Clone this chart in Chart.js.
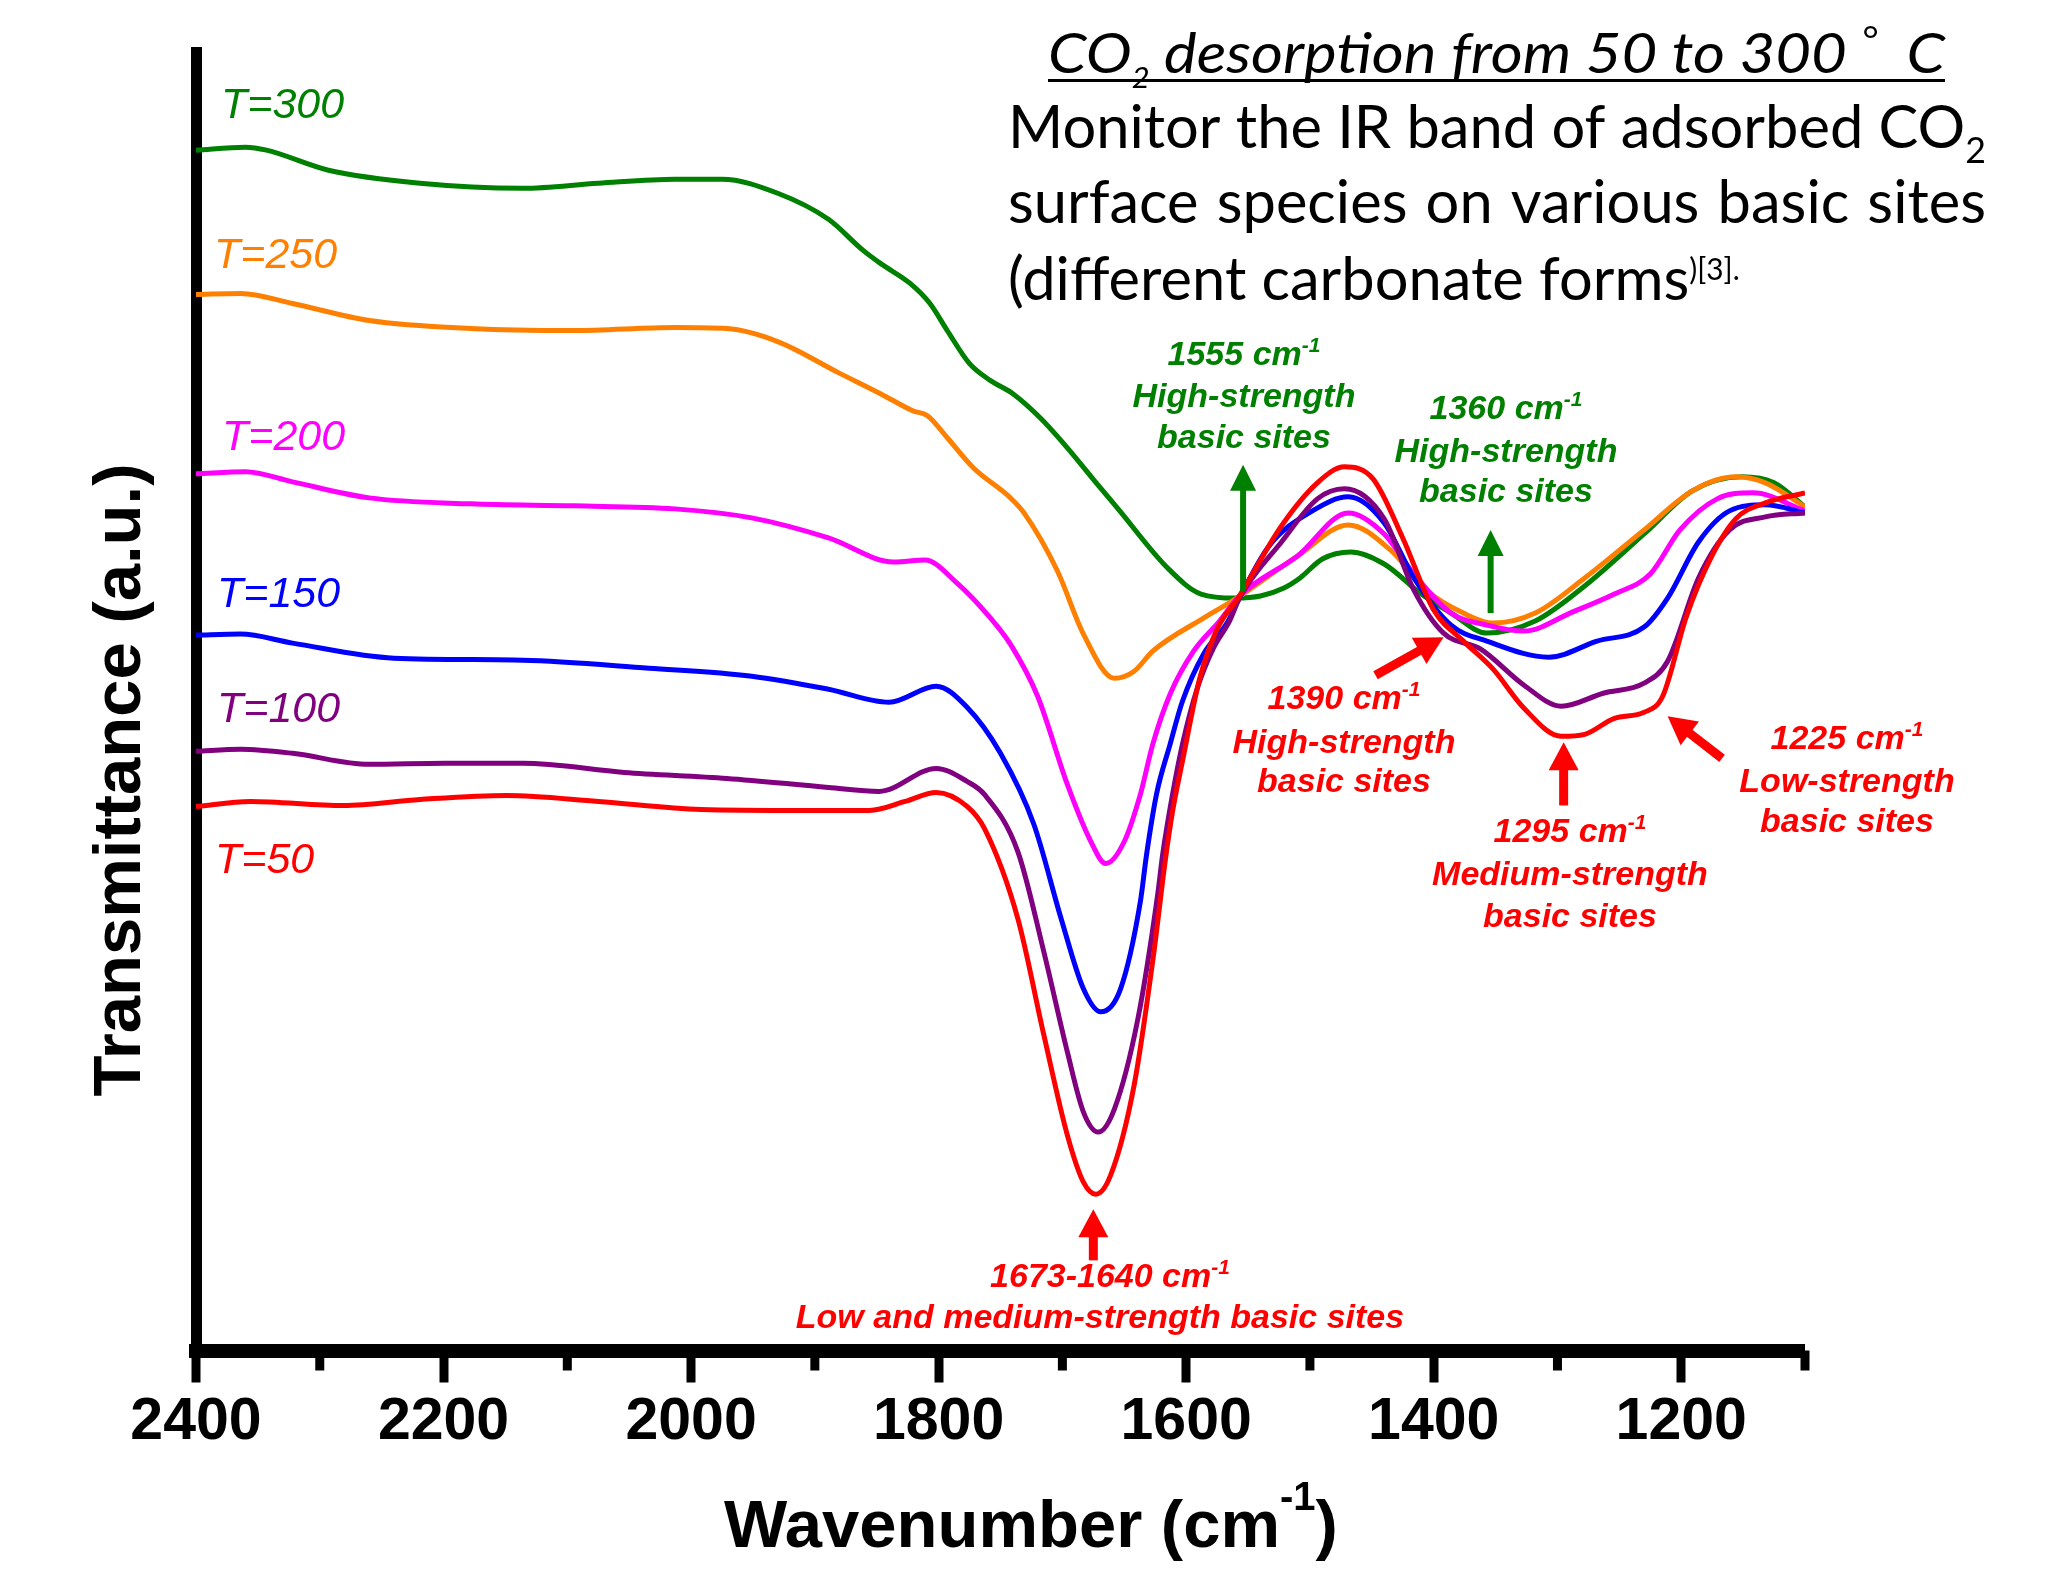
<!DOCTYPE html>
<html>
<head>
<meta charset="utf-8">
<script src="https://cdn.jsdelivr.net/npm/chart.js@4.4.1/dist/chart.umd.min.js"></script>
<style>
  html, body { margin: 0; padding: 0; background: #fff; }
  canvas { display: block; }
</style>
</head>
<body>
<canvas id="graficoIR" width="2046" height="1569"></canvas>
<script>
// Wavenumber (cm-1) and transmittance (a.u.), one pair per temperature
const wn300 = [2400,2360,2343,2293,2219,2136,2075,2013,1975,1930,1889,1861,1847,1823,1807,1793,1775,1758,1740,1718,1696,1672,1655,1615,1588,1560,1540,1521,1508,1490,1467,1440,1410,1386,1357,1318,1278,1230,1191,1151,1125,1100];
const t300  = [119.8,120.1,119.8,117.8,116.5,116.0,116.5,116.9,116.9,115.5,112.9,109.8,108.5,106.5,104.5,101.8,98.5,96.8,95.5,93.1,90.1,86.5,84.0,78.1,75.5,75.1,75.3,76.1,77.1,79.0,79.7,78.5,75.5,73.6,71.6,72.8,76.3,81.5,85.8,87.2,86.6,84.2];

const wn250 = [2400,2364,2322,2260,2178,2095,2013,1971,1930,1881,1847,1821,1809,1793,1772,1742,1731,1704,1683,1658,1642,1627,1586,1559,1510,1469,1435,1406,1376,1352,1318,1278,1230,1191,1156,1132,1100];
const t250  = [105.4,105.5,104.5,102.8,102.0,101.8,102.1,102.0,100.7,97.6,95.5,93.8,93.3,91.1,88.1,85.1,83.6,77.8,71.5,67.1,67.8,69.8,73.1,75.1,79.3,82.4,79.9,75.9,73.6,72.6,73.6,77.1,81.9,85.8,87.2,86.6,84.2];

const wn200 = [2400,2360,2322,2260,2178,2095,2013,1951,1889,1836,1811,1786,1758,1742,1720,1696,1677,1665,1650,1637,1627,1613,1594,1573,1557,1510,1469,1440,1416,1386,1357,1327,1288,1254,1225,1201,1171,1142,1100];
const t200  = [87.5,87.7,86.7,85.1,84.5,84.3,84.0,83.1,81.1,78.7,78.9,76.7,73.1,70.5,65.3,56.5,50.8,48.6,50.8,55.5,60.5,65.5,69.8,72.8,75.3,79.3,83.6,81.5,77.5,73.6,72.4,71.8,73.7,75.5,77.5,81.9,85.0,85.6,83.8];

const wn150 = [2400,2364,2322,2240,2136,2034,1951,1889,1840,1802,1777,1750,1723,1701,1683,1669,1653,1637,1632,1624,1613,1603,1586,1567,1557,1533,1498,1469,1440,1416,1386,1357,1307,1268,1230,1211,1186,1161,1132,1100];
const t150  = [71.4,71.5,70.6,69.1,68.9,68.1,67.3,66.0,64.7,66.3,64.2,59.6,52.5,43.1,36.1,33.8,36.1,44.8,49.5,55.5,60.5,64.8,69.5,72.6,75.1,80.3,83.8,85.2,82.6,77.1,72.4,70.8,69.2,70.8,72.2,75.1,80.7,83.8,84.4,83.6];

const wn100 = [2400,2364,2322,2260,2199,2136,2054,1971,1889,1848,1802,1777,1763,1736,1715,1696,1683,1671,1658,1639,1623,1619,1611,1603,1591,1578,1565,1557,1523,1494,1472,1440,1416,1392,1362,1327,1297,1263,1230,1211,1186,1161,1132,1100];
const t100  = [59.8,60.0,59.6,58.5,58.6,58.6,57.7,57.1,56.2,55.8,58.1,56.8,55.5,49.8,39.8,29.8,23.8,21.8,24.1,33.1,45.5,49.5,55.5,60.5,66.1,70.1,72.8,75.1,80.7,85.0,86.0,83.0,75.9,71.6,70.0,66.4,64.3,65.6,66.6,68.8,77.1,81.9,83.2,83.6];

const wn50 = [2400,2356,2281,2219,2149,2075,1992,1910,1856,1827,1802,1777,1763,1736,1715,1696,1683,1673,1661,1642,1626,1617,1611,1603,1589,1575,1557,1523,1494,1472,1449,1425,1400,1376,1352,1327,1297,1278,1254,1230,1215,1196,1176,1156,1132,1100];
const t50  = [54.3,54.8,54.4,55.0,55.4,54.8,54.0,53.9,53.9,54.8,55.7,54.3,52.1,43.1,31.5,21.5,16.8,15.6,17.5,26.5,39.8,48.8,53.8,58.8,67.1,72.0,75.3,82.3,86.6,88.2,87.0,81.1,73.9,70.8,68.0,64.1,61.3,61.5,63.1,63.7,65.3,73.2,79.1,83.0,84.6,85.6];

// Axis ticks (cm-1)
const tickMin = 1100;
const tickMax = 2400;
const tickStep = 100;

// Cores
const VERDE = '#008000';
const LARANJA = '#FF8000';
const MAGENTA = '#FF00FF';
const AZUL = '#0000FF';
const ROXO = '#800080';
const VERMELHO = '#FF0000';

const FONTE = '"Liberation Sans", Arial, sans-serif';
const FONTE_TEXTO = 'Lato, "Open Sans", sans-serif';

// junta x e y para o Chart.js
function pares(xs, ys) {
    return ys.map((v, i) => ({ x: xs[i], y: v }));
}

function serie(label, xs, ys, cor) {
    return {
        label: label,
        data: pares(xs, ys),
        borderColor: cor,
        backgroundColor: cor,
        borderWidth: 5,
        pointRadius: 0,
        fill: false,
        cubicInterpolationMode: 'monotone'
    };
}

// desenha pedaços de texto (com sub/sobrescrito) em sequência
function larguraRuns(ctx, runs) {
    let w = 0;
    runs.forEach(r => { ctx.font = r[1]; w += ctx.measureText(r[0]).width; });
    return w;
}
function desenhaRuns(ctx, runs, x, y, k) {
    ctx.save();
    ctx.translate(x, y);
    ctx.scale(k, 1);
    let cx = 0;
    runs.forEach(r => {
        ctx.font = r[1];
        ctx.fillText(r[0], cx, r[2]);
        cx += ctx.measureText(r[0]).width;
    });
    ctx.restore();
}
function centraRuns(ctx, runs, cx, y) {
    const w = larguraRuns(ctx, runs);
    desenhaRuns(ctx, runs, cx - w / 2, y, 1);
}

function seta(ctx, x1, y1, x2, y2, cor, haste, cabW, cabL) {
    const ang = Math.atan2(y2 - y1, x2 - x1);
    const len = Math.hypot(x2 - x1, y2 - y1);
    ctx.save();
    ctx.translate(x1, y1);
    ctx.rotate(ang);
    ctx.fillStyle = cor;
    ctx.fillRect(0, -haste / 2, len - cabL + 1, haste);
    ctx.beginPath();
    ctx.moveTo(len, 0);
    ctx.lineTo(len - cabL, -cabW / 2);
    ctx.lineTo(len - cabL, cabW / 2);
    ctx.closePath();
    ctx.fill();
    ctx.restore();
}

const AF = 'italic bold 34px ' + FONTE;
const AS = 'italic bold 21px ' + FONTE;
function cm(n) { return [[n + ' cm', AF, 0], ['-1', AS, -13]]; }
function txt(t) { return [[t, AF, 0]]; }

// rótulos das curvas (posição em px da figura)
const rotulos = [
    ['T=300', 221, 118, VERDE],
    ['T=250', 214, 268, LARANJA],
    ['T=200', 222, 450, MAGENTA],
    ['T=150', 217, 607, AZUL],
    ['T=100', 217, 722, ROXO],
    ['T=50', 215, 873, VERMELHO]
];

// blocos de anotação: cor, centro x, linhas [runs, baseline]
const blocos = [
    [VERDE, 1244, [[cm('1555'), 365], [txt('High-strength'), 407], [txt('basic sites'), 448]]],
    [VERDE, 1506, [[cm('1360'), 419], [txt('High-strength'), 462], [txt('basic sites'), 502]]],
    [VERMELHO, 1344, [[cm('1390'), 709], [txt('High-strength'), 753], [txt('basic sites'), 792]]],
    [VERMELHO, 1570, [[cm('1295'), 842], [txt('Medium-strength'), 885], [txt('basic sites'), 927]]],
    [VERMELHO, 1847, [[cm('1225'), 749], [txt('Low-strength'), 792], [txt('basic sites'), 832]]],
    [VERMELHO, 1110, [[cm('1673-1640'), 1287]]],
    [VERMELHO, 1100, [[txt('Low and medium-strength basic sites'), 1328]]]
];

// setas em coordenadas dos dados: [wn1, v1, wn2, v2, cor]
const setas = [
    [1554, 75.7, 1554, 88.4, VERDE],
    [1354, 73.6, 1354, 81.9, VERDE],
    [1447, 67.4, 1392, 71.2, VERMELHO],
    [1295, 54.4, 1295, 60.7, VERMELHO],
    [1167, 59.1, 1211, 63.3, VERMELHO],
    [1675, 9.0, 1675, 14.1, VERMELHO]
];

const anotacoes = {
    id: 'anotacoes',
    afterDraw(chart) {
        const ctx = chart.ctx;
        const xs = chart.scales.x;
        const ys = chart.scales.y;
        const area = chart.chartArea;
        ctx.save();
        ctx.textAlign = 'left';
        ctx.textBaseline = 'alphabetic';

        // ticks menores do eixo x
        ctx.fillStyle = '#000';
        for (let v = tickMin; v <= tickMax; v += tickStep) {
            if (v % 200 !== 0) {
                const x = xs.getPixelForValue(v);
                ctx.fillRect(x - 4.5, area.bottom, 9, 20);
            }
        }

        // rótulos T=...
        ctx.font = 'italic 43px ' + FONTE;
        rotulos.forEach(r => {
            ctx.fillStyle = r[3];
            ctx.fillText(r[0], r[1], r[2]);
        });

        // setas
        setas.forEach(s => {
            const verde = s[4] === VERDE;
            seta(ctx, xs.getPixelForValue(s[0]), ys.getPixelForValue(s[1]),
                 xs.getPixelForValue(s[2]), ys.getPixelForValue(s[3]), s[4],
                 verde ? 6 : 9, verde ? 26 : 30, verde ? 26 : 28);
        });

        // textos das bandas
        blocos.forEach(b => {
            ctx.fillStyle = b[0];
            b[2].forEach(l => centraRuns(ctx, l[0], b[1], l[1]));
        });

        // títulos dos eixos
        ctx.fillStyle = '#000';
        const TB = 'bold 67px ' + FONTE;
        desenhaRuns(ctx, [['Wavenumber (cm', TB, 0], ['-1', 'bold 40px ' + FONTE, -37], [')', TB, 0]], 724, 1547, 1);
        ctx.save();
        ctx.translate(140, 780);
        ctx.rotate(-Math.PI / 2);
        ctx.textAlign = 'center';
        ctx.font = TB;
        ctx.fillText('Transmittance (a.u.)', 0, 0);
        ctx.restore();

        // bloco de texto no canto superior direito
        const I56 = 'italic 56px ' + FONTE_TEXTO;
        const F60 = '60px ' + FONTE_TEXTO;
        const l1 = [['CO', I56, 0], ['2', 'italic 28px ' + FONTE_TEXTO, 15],
                    [' desorption from 50 to 300 ', I56, 0], ['\u00B0', 'italic 36px ' + FONTE_TEXTO, -20], ['  C', I56, 0]];
        desenhaRuns(ctx, l1, 1048, 73, 897 / larguraRuns(ctx, l1));
        ctx.fillRect(1048, 79, 897, 3);

        const l2 = [['Monitor the IR band of adsorbed CO', F60, 0], ['2', '36px ' + FONTE_TEXTO, 15]];
        const k = 978 / larguraRuns(ctx, l2);
        desenhaRuns(ctx, l2, 1008, 148, k);

        // linha justificada
        const palavras = 'surface species on various basic sites'.split(' ');
        ctx.font = F60;
        const larg = palavras.map(p => ctx.measureText(p).width * k);
        const soma = larg.reduce((a, b) => a + b, 0);
        const gap = (978 - soma) / (palavras.length - 1);
        let px = 1008;
        palavras.forEach((p, i) => {
            desenhaRuns(ctx, [[p, F60, 0]], px, 223, k);
            px += larg[i] + gap;
        });

        const l4 = [['(different carbonate forms', F60, 0], [')[3].', '30px ' + FONTE_TEXTO, -20]];
        desenhaRuns(ctx, l4, 1008, 300, k);

        ctx.restore();
    }
};

const datasets = [
    serie('T=50', wn50, t50, VERMELHO),
    serie('T=100', wn100, t100, ROXO),
    serie('T=150', wn150, t150, AZUL),
    serie('T=200', wn200, t200, MAGENTA),
    serie('T=250', wn250, t250, LARANJA),
    serie('T=300', wn300, t300, VERDE)
];

const grafico = new Chart(document.getElementById('graficoIR').getContext('2d'), {
    type: 'line',
    data: { datasets: datasets },
    options: {
        responsive: false,
        animation: false,
        devicePixelRatio: 1,
        layout: { padding: { left: 196, right: 241, top: 52, bottom: 106.5 } },
        plugins: {
            legend: { display: false },
            tooltip: { enabled: false }
        },
        scales: {
            x: {
                type: 'linear',
                position: 'bottom',
                reverse: true,
                min: tickMin,
                max: tickMax,
                border: { display: true, color: '#000', width: 14 },
                grid: {
                    display: true,
                    drawOnChartArea: false,
                    drawTicks: true,
                    tickLength: 32,
                    color: '#000',
                    lineWidth: 0,
                    tickColor: '#000',
                    tickWidth: c => (c.tick && c.tick.value % 200 === 0) ? 9 : 0
                },
                ticks: {
                    stepSize: tickStep,
                    autoSkip: false,
                    maxRotation: 0,
                    padding: 10.5,
                    color: '#000',
                    font: { family: FONTE, size: 59, weight: 'bold', lineHeight: 1 },
                    callback: v => (v % 200 === 0 ? String(v) : '')
                }
            },
            y: {
                min: 0,
                max: 129.6,
                border: { display: true, color: '#000', width: 11 },
                grid: { display: true, drawOnChartArea: false, drawTicks: false },
                ticks: { display: false }
            }
        }
    },
    plugins: [anotacoes]
});
</script>
</body>
</html>
